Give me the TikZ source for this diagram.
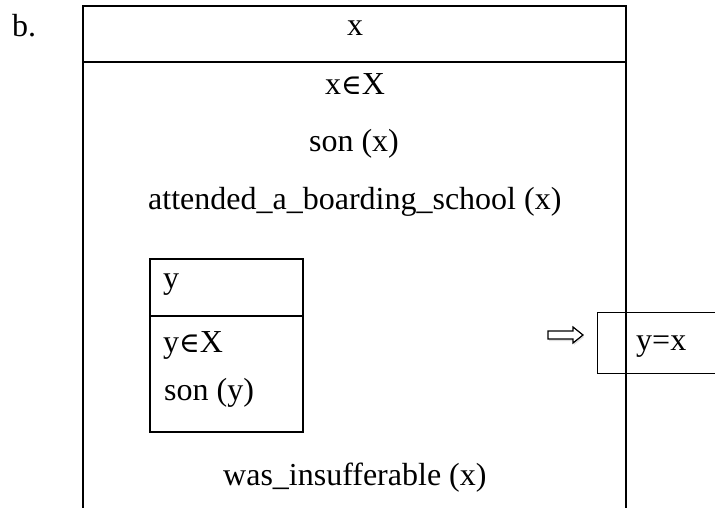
\documentclass[tikz,border=0pt]{standalone}
\usepackage{fontspec}
\setmainfont{Liberation Serif}
\newfontfamily\symfont{DejaVu Serif}
\usetikzlibrary{shadows}
\tikzset{
  rule/.style={line width=1.7pt, black},
  thinrule/.style={line width=0.9pt, black},
  txt/.style={font=\fontsize{32}{36}\selectfont, inner sep=0pt, anchor=base},
  ltxt/.style={txt, anchor=base west},
}
\newcommand{\elm}{{\symfont\fontsize{28}{30}\selectfont ∈}}
\begin{document}
\begin{tikzpicture}[x=1pt,y=-1pt]
\useasboundingbox (0,0) rectangle (715,508);
% outer box
\draw[rule] (83,508) -- (83,6) -- (626,6) -- (626,508);
\draw[rule] (83,62) -- (626,62);
% inner box
\draw[rule] (150,259) rectangle (303,432);
\draw[rule] (150,316) -- (303,316);
% right box
\draw[thinrule] (715,312) -- (597,312) -- (597,373) -- (715,373);
% arrow
\draw[line width=1.2pt, fill=white, drop shadow={shadow xshift=1pt, shadow yshift=-2pt, opacity=0.25}]
  (548,331) -- (573,331) -- (573,327) -- (583,335) -- (573,343) -- (573,339) -- (548,339) -- cycle;
% texts
\node[ltxt] (lab) at (12,37) {b.};
\node[txt] (univx) at (355,36) {x};
\node[txt] (cond1) at (355,95) {x\elm X};
\node[txt] (cond2) at (354,152) {son (x)};
\node[ltxt] (cond3) at (148,209) {attended\_a\_boarding\_school (x)};
\node[ltxt] (univy) at (163,288) {y};
\node[ltxt] (cond4) at (163,352) {y\elm X};
\node[ltxt] (cond5) at (164,400) {son (y)};
\node[ltxt] (cond6) at (223,485) {was\_insufferable (x)};
\node[ltxt] (eq) at (636,350) {y=x};
\end{tikzpicture}
\end{document}
